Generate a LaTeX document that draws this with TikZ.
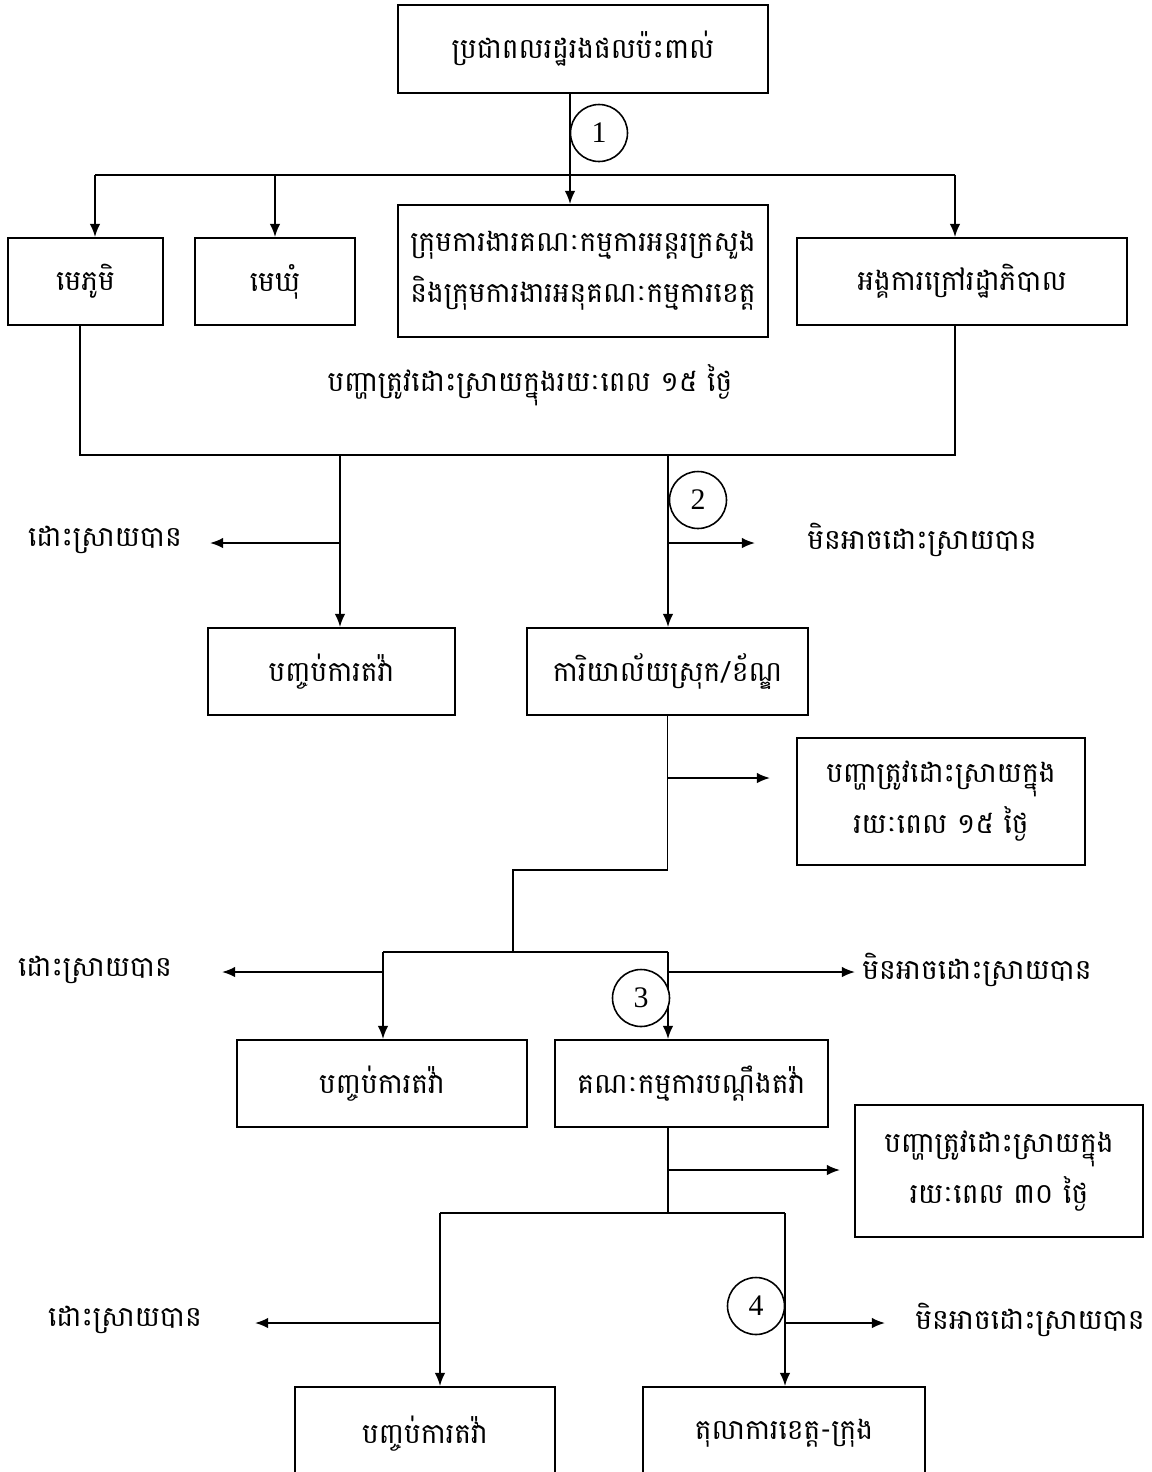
\documentclass[tikz,border=0pt]{standalone}
\usepackage{fontspec}
\setmainfont{Liberation Serif}
\newfontfamily\khmer[Script=Khmer]{Battambang}
\usepackage{tikz}
\usetikzlibrary{arrows.meta}

\tikzset{
    box/.style={draw, line width=1.1pt, align=center, inner sep=0pt,
        font=\khmer\fontsize{16}{29}\selectfont},
    lbl/.style={align=center, inner sep=0pt, font=\khmer\fontsize{16}{29}\selectfont},
    num/.style={draw, circle, line width=0.9pt, minimum size=1.14cm, inner sep=0pt,
        font=\fontsize{17}{20}\selectfont, fill=white},
    link/.style={line width=1pt},
    arr/.style={line width=1pt, -{Latex[length=7.5pt,width=6pt]}}
}

\begin{document}
\begin{tikzpicture}[x=0.02cm, y=-0.02cm]
        \useasboundingbox (0,0) rectangle (1152,1472);

        % boxes
        \node[box, minimum width=7.4cm, minimum height=1.76cm] (top) at (583,49) {ប្រជាពលរដ្ឋរងផលប៉ះពាល់};
        \node[box, minimum width=3.1cm, minimum height=1.74cm] (vil) at (85.5,281.5) {មេភូមិ};
        \node[box, minimum width=3.2cm, minimum height=1.74cm] (com) at (275,281.5) {មេឃុំ};
        \node[box, minimum width=7.4cm, minimum height=2.64cm] (wg) at (583,271)
            {ក្រុមការងារគណៈកម្មការអន្តរក្រសួង\\និងក្រុមការងារអនុគណៈកម្មការខេត្ត};
        \node[box, minimum width=6.6cm, minimum height=1.74cm] (ngo) at (962,281.5) {អង្គការក្រៅរដ្ឋាភិបាល};
        \node[lbl] (t15) at (530,385) {បញ្ហាត្រូវដោះស្រាយក្នុងរយៈពេល ១៥ ថ្ងៃ};

        \node[box, minimum width=4.94cm, minimum height=1.74cm] (end1) at (331.5,671.5) {បញ្ចប់ការតវ៉ា};
        \node[box, minimum width=5.62cm, minimum height=1.74cm] (dist) at (667.5,671.5) {ការិយាល័យស្រុក/ខ័ណ្ឌ};
        \node[box, minimum width=5.76cm, minimum height=2.54cm] (note1) at (941,801.5)
            {បញ្ហាត្រូវដោះស្រាយក្នុង\\រយៈពេល ១៥ ថ្ងៃ};

        \node[box, minimum width=5.8cm, minimum height=1.74cm] (end2) at (382,1083.5) {បញ្ចប់ការតវ៉ា};
        \node[box, minimum width=5.46cm, minimum height=1.74cm] (comp) at (691.5,1083.5) {គណៈកម្មការបណ្តឹងតវ៉ា};
        \node[box, minimum width=5.76cm, minimum height=2.64cm] (note2) at (999,1171)
            {បញ្ហាត្រូវដោះស្រាយក្នុង\\រយៈពេល ៣០ ថ្ងៃ};

        \node[box, minimum width=5.2cm, minimum height=1.86cm] (end3) at (425,1433.5) {បញ្ចប់ការតវ៉ា};
        \node[box, minimum width=5.64cm, minimum height=1.86cm] (court) at (784,1433.5) {តុលាការខេត្ត-ក្រុង};

        % side labels
        \node[lbl] (ok1) at (105,540) {ដោះស្រាយបាន};
        \node[lbl] (no1) at (922,540) {មិនអាចដោះស្រាយបាន};
        \node[lbl] (ok2) at (95,970) {ដោះស្រាយបាន};
        \node[lbl] (no2) at (977,970) {មិនអាចដោះស្រាយបាន};
        \node[lbl] (ok3) at (125,1320) {ដោះស្រាយបាន};
        \node[lbl] (no3) at (1030,1320) {មិនអាចដោះស្រាយបាន};

        % first level
        \coordinate (tl) at (95,175);
        \coordinate (tm) at (570,175);
        \coordinate (tr) at (955,175);
        \draw[arr] (top.south -| tm) -- (wg.north -| tm);
        \draw[link] (tl) -- (tr);
        \draw[arr] (tl) -- (vil.north -| tl);
        \draw[arr] (tl -| com) -- (com.north);
        \draw[arr] (tr) -- (ngo.north -| tr);

        % second level
        \coordinate (bl) at (80,455);
        \coordinate (br) at (955,455);
        \coordinate (b1) at (340,455);
        \coordinate (b2) at (668,455);
        \draw[link] (vil.south -| bl) -- (bl) -- (br) -- (ngo.south -| br);
        \draw[arr] (b1) -- (end1.north -| b1);
        \draw[arr] (b2) -- (dist.north -| b2);
        \coordinate (s1) at (210,543);
        \coordinate (u1) at (755,543);
        \draw[arr] (s1 -| b1) -- (s1);
        \draw[arr] (u1 -| b2) -- (u1);

        % third level
        \coordinate (c1) at (513,870);
        \coordinate (c2) at (513,952);
        \coordinate (cl) at (383,952);
        \coordinate (cr) at (668,952);
        \coordinate (a1) at (770,778);
        \draw[link] (dist.south) -- (dist.south |- c1) -- (c1) -- (c2);
        \draw[arr] (a1 -| dist) -- (a1);
        \draw[link] (cl) -- (cr);
        \draw[arr] (cl) -- (end2.north -| cl);
        \draw[arr] (cr) -- (comp.north -| cr);
        \coordinate (s2) at (222,972);
        \coordinate (u2) at (855,972);
        \draw[arr] (s2 -| cl) -- (s2);
        \draw[arr] (u2 -| cr) -- (u2);

        % fourth level
        \coordinate (d0) at (668,1213);
        \coordinate (dl) at (440,1213);
        \coordinate (dr) at (785,1213);
        \coordinate (a2) at (840,1170);
        \draw[link] (comp.south -| d0) -- (d0);
        \draw[arr] (a2 -| d0) -- (a2);
        \draw[link] (dl) -- (dr);
        \draw[arr] (dl) -- (end3.north -| dl);
        \draw[arr] (dr) -- (court.north -| dr);
        \coordinate (s3) at (255,1323);
        \coordinate (u3) at (885,1323);
        \draw[arr] (s3 -| dl) -- (s3);
        \draw[arr] (u3 -| dr) -- (u3);

        % step numbers
        \node[num] (n1) at (599,133) {1};
        \node[num] (n2) at (698,500) {2};
        \node[num] (n3) at (641,998) {3};
        \node[num] (n4) at (756,1306) {4};
    \end{tikzpicture}
\end{document}
